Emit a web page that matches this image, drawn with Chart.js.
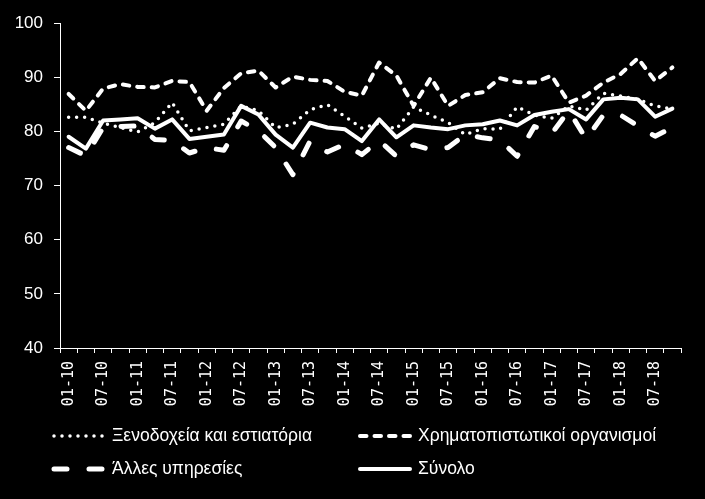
<!DOCTYPE html>
<html>
<head>
<meta charset="utf-8">
<script src="https://cdn.jsdelivr.net/npm/chart.js@4/dist/chart.umd.min.js"></script>
<style>
  html, body { margin: 0; padding: 0; background: #000; }
  #wrap { width: 705px; height: 499px; }
</style>
</head>
<body>
<div id="wrap"><canvas id="chart" width="705" height="499"></canvas></div>
<script>
// quarters, labelled MM-YY
const quarters = [
  '01-10', '04-10', '07-10', '10-10',
  '01-11', '04-11', '07-11', '10-11',
  '01-12', '04-12', '07-12', '10-12',
  '01-13', '04-13', '07-13', '10-13',
  '01-14', '04-14', '07-14', '10-14',
  '01-15', '04-15', '07-15', '10-15',
  '01-16', '04-16', '07-16', '10-16',
  '01-17', '04-17', '07-17', '10-17',
  '01-18', '04-18', '07-18', '10-18'
]

const hotels = [
  82.6, 82.6, 81.5, 80.7, 79.9, 81.6, 85.3, 80.1, 80.7, 81.3, 84.7, 83.8,
  80.7, 81.3, 84.0, 84.9, 82.8, 80.6, 81.5, 80.4, 84.5, 83.0, 81.6, 79.4,
  80.5, 80.4, 84.5, 83.0, 82.4, 84.7, 83.9, 87.0, 86.5, 85.9, 84.7, 84.1
]
const finance = [
  86.9, 83.8, 87.9, 88.7, 88.2, 88.1, 89.3, 89.1, 83.8, 88.0, 90.7, 91.2,
  88.1, 90.1, 89.5, 89.3, 87.3, 86.6, 92.7, 90.3, 84.7, 89.9, 84.7, 86.7,
  87.2, 89.8, 89.1, 89.0, 90.3, 85.3, 86.6, 89.0, 90.6, 93.5, 89.3, 91.8
]
const otherServices = [
  77.0, 75.5, 80.7, 80.9, 81.0, 78.5, 78.3, 76.0, 77.0, 76.5, 81.9, 80.1,
  77.0, 72.0, 78.2, 76.2, 77.6, 75.7, 78.3, 75.4, 77.5, 76.6, 77.0, 79.4,
  78.8, 78.4, 75.4, 80.9, 79.6, 83.8, 78.6, 83.0, 83.0, 81.0, 79.1, 80.7
]
const total = [
  79.0, 76.8, 82.0, 82.2, 82.4, 80.5, 82.2, 78.6, 79.0, 79.4, 84.7, 83.1,
  79.4, 77.0, 81.6, 80.7, 80.4, 78.2, 82.2, 78.9, 81.1, 80.7, 80.4, 81.1,
  81.3, 82.0, 81.1, 83.0, 83.6, 84.1, 82.2, 85.9, 86.2, 85.9, 82.7, 84.2
]

const yTicks = [40, 50, 60, 70, 80, 90, 100]

const fontFamily = '"Liberation Sans", Arial, sans-serif'
const white = '#ffffff'

// legend in a 2x2 grid, like the original
const gridLegend = {
  id: 'gridLegend',
  afterDraw(chart) {
    const ctx = chart.ctx
    const cells = [
      { x: 52, y: 436 }, { x: 358, y: 436 },
      { x: 52, y: 469 }, { x: 358, y: 469 }
    ]
    chart.data.datasets.forEach((ds, i) => {
      const c = cells[i]
      ctx.save()
      ctx.strokeStyle = white
      ctx.lineWidth = ds.borderWidth
      ctx.lineCap = 'round'
      ctx.setLineDash(ds.borderDash || [])
      ctx.beginPath()
      ctx.moveTo(c.x + 2, c.y)
      ctx.lineTo(c.x + 52, c.y)
      ctx.stroke()
      ctx.setLineDash([])
      ctx.fillStyle = white
      ctx.font = '17.5px ' + fontFamily
      ctx.textBaseline = 'middle'
      ctx.fillText(ds.label, c.x + 60, c.y)
      ctx.restore()
    })
  }
}

new Chart(document.getElementById('chart'), {
  type: 'line',
  data: {
    labels: quarters,
    datasets: [
      {
        label: 'Ξενοδοχεία και εστιατόρια',
        data: hotels,
        borderColor: white,
        borderWidth: 3.5,
        borderDash: [0, 8],
        borderCapStyle: 'round'
      },
      {
        label: 'Χρηματοπιστωτικοί οργανισμοί',
        data: finance,
        borderColor: white,
        borderWidth: 4,
        borderDash: [6.5, 8],
        borderCapStyle: 'round'
      },
      {
        label: 'Άλλες υπηρεσίες',
        data: otherServices,
        borderColor: white,
        borderWidth: 5,
        borderDash: [13, 22],
        borderCapStyle: 'round'
      },
      {
        label: 'Σύνολο',
        data: total,
        borderColor: white,
        borderWidth: 4,
        borderCapStyle: 'round'
      }
    ]
  },
  options: {
    responsive: false,
    animation: false,
    devicePixelRatio: 1,
    layout: { padding: { top: 23, right: 24, bottom: 81, left: 0 } },
    elements: {
      point: { radius: 0, hoverRadius: 0 },
      line: { tension: 0, borderJoinStyle: 'round' }
    },
    plugins: {
      legend: { display: false },
      tooltip: { enabled: false }
    },
    scales: {
      x: {
        type: 'category',
        offset: true,
        afterFit: (scale) => { scale.height = 70 },
        grid: {
          display: true,
          offset: true,
          drawOnChartArea: false,
          drawTicks: true,
          tickLength: 5,
          color: white
        },
        border: { display: true, color: white, width: 1 },
        ticks: {
          color: white,
          autoSkip: false,
          maxRotation: 90,
          minRotation: 90,
          padding: 8,
          font: { family: '"DejaVu Sans Mono", monospace', size: 15 },
          callback: (v, i) => (i % 2 === 0 ? quarters[i] : '')
        }
      },
      y: {
        min: yTicks[0],
        max: yTicks[yTicks.length - 1],
        afterFit: (scale) => { scale.width = 60 },
        afterBuildTicks: (scale) => { scale.ticks = yTicks.map(v => ({ value: v })) },
        grid: {
          display: true,
          drawOnChartArea: false,
          drawTicks: true,
          tickLength: 6,
          color: white
        },
        border: { display: true, color: white, width: 1 },
        ticks: {
          color: white,
          padding: 11,
          font: { family: fontFamily, size: 17 }
        }
      }
    }
  },
  plugins: [gridLegend]
})
</script>
</body>
</html>
